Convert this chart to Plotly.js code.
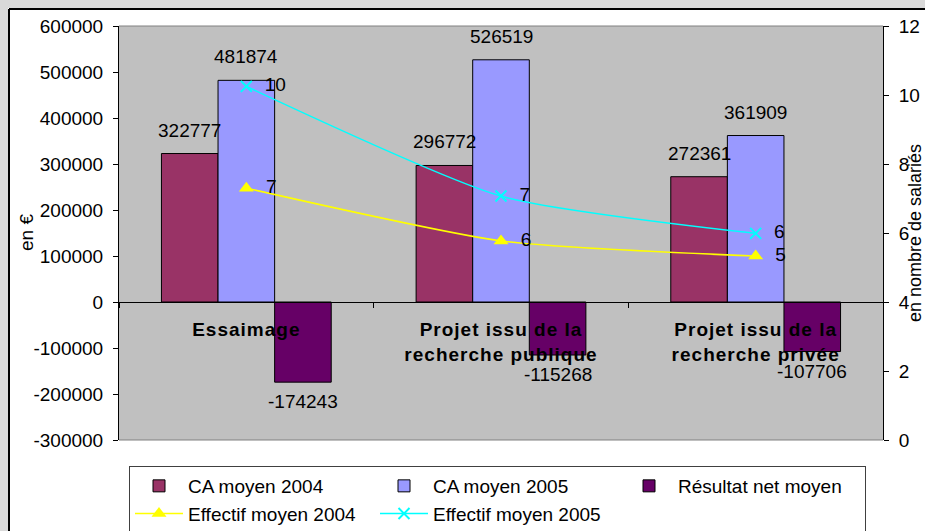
<!DOCTYPE html>
<html><head><meta charset="utf-8">
<script src="https://cdn.plot.ly/plotly-3.0.1.min.js"></script>
<style>
html,body{margin:0;padding:0;background:#fff;}
#chart{width:925px;height:531px;}
.xtick text{letter-spacing:1px;}
</style></head><body><div id="chart"></div>
<script>
// ---- data ----
const categories = ['Essaimage', 'Projet issu de la<br>recherche publique', 'Projet issu de la<br>recherche privée'];
const caMoyen2004 = [322777, 296772, 272361];
const caMoyen2005 = [481874, 526519, 361909];
const resultatNetMoyen = [-174243, -115268, -107706];
const effectifMoyen2004 = [7.3, 5.77, 5.33];
const effectifMoyen2005 = [10.25, 7.07, 5.99];
const leftTickVals = [600000, 500000, 400000, 300000, 200000, 100000, 0, -100000, -200000, -300000];
const leftTickText = ['600000', '500000', '400000', '300000', '200000', '100000', '0', '-100000', '-200000', '-300000'];
const rightTickVals = [0, 2, 4, 6, 8, 10, 12];
const rightTickText = ['0', '2', '4', '6', '8', '10', '12'];

// ---- layout geometry ----
const W = 925, H = 531;
const M = {l: 119, r: 42, t: 26, b: 91};
const plotW = W - M.l - M.r, plotH = H - M.t - M.b;
const px2x = px => (px - M.l) / plotW;
const px2y = py => (H - M.b - py) / plotH;
const bargap = 1 / 3;
const barW = plotW / categories.length * (1 - bargap) / 3;
const FONT = 'Liberation Sans, Arial, sans-serif';
const yMin = -300000, yMax = 600000;

const barTraces = [
  {name: 'CA moyen 2004', y: caMoyen2004, color: '#993366'},
  {name: 'CA moyen 2005', y: caMoyen2005, color: '#9999FF'},
  {name: 'Résultat net moyen', y: resultatNetMoyen, color: '#660066'}
].map(s => ({
  type: 'bar', name: s.name, x: categories, y: s.y,
  marker: {color: s.color, line: {color: '#000', width: 1}},
  hoverinfo: 'skip'
}));

const lineTraces = [
  {name: 'Effectif moyen 2004', y: effectifMoyen2004, color: '#FFFF00', symbol: 'triangle-up', size: 13, mline: 0},
  {name: 'Effectif moyen 2005', y: effectifMoyen2005, color: '#00FFFF', symbol: 'x-thin-open', size: 11, mline: 2}
].map(s => ({
  type: 'scatter', mode: 'lines+markers+text', name: s.name, x: categories, y: s.y, yaxis: 'y2',
  line: {color: s.color, width: 1.5, shape: 'spline', smoothing: 0.6},
  marker: {color: s.color, symbol: s.symbol, size: s.size, line: {color: s.color, width: s.mline}},
  texttemplate: '\u00a0\u00a0%{y:.0f}', textposition: 'middle right',
  textfont: {family: FONT, size: 19, color: '#000'}, cliponaxis: false, hoverinfo: 'skip'
}));

// value labels for bars
const annotations = [];
[caMoyen2004, caMoyen2005, resultatNetMoyen].forEach((arr, j) => {
  arr.forEach((v, i) => {
    annotations.push({
      x: categories[i], y: v, xref: 'x', yref: 'y', text: String(v), showarrow: false,
      xshift: (j - 1) * barW, yanchor: v >= 0 ? 'bottom' : 'top', yshift: v >= 0 ? 11 : -7,
      font: {family: FONT, size: 19, color: '#000'}
    });
  });
});
// axis titles
annotations.push({
  xref: 'paper', yref: 'paper', x: px2x(915), y: 0.5, text: 'en nombre de salariés', textangle: -90,
  showarrow: false, xanchor: 'center', yanchor: 'middle', font: {family: FONT, size: 18, color: '#000'}
});
annotations.push({
  xref: 'paper', yref: 'paper', x: px2x(26), y: 0.5, text: 'en €', textangle: -90,
  showarrow: false, xanchor: 'center', yanchor: 'middle', font: {family: FONT, size: 19, color: '#000'}
});

const shapes = [
  // outer grey frame strips
  {type: 'rect', xref: 'paper', yref: 'paper', x0: px2x(-5), x1: px2x(8), y0: px2y(H + 5), y1: px2y(-5), fillcolor: '#d9d9d9', line: {width: 0}, layer: 'below'},
  {type: 'rect', xref: 'paper', yref: 'paper', x0: px2x(-5), x1: px2x(W + 5), y0: px2y(8), y1: px2y(-5), fillcolor: '#d9d9d9', line: {width: 0}, layer: 'below'},
  {type: 'line', xref: 'paper', yref: 'paper', x0: px2x(9), x1: px2x(9), y0: px2y(9), y1: px2y(H + 5), line: {color: '#000', width: 2}, layer: 'below'},
  {type: 'line', xref: 'paper', yref: 'paper', x0: px2x(9), x1: px2x(W + 5), y0: px2y(9), y1: px2y(9), line: {color: '#000', width: 2}, layer: 'below'},
  // plot-area top and bottom border
  {type: 'line', xref: 'paper', yref: 'paper', x0: 0, x1: 1, y0: 1, y1: 1, line: {color: '#808080', width: 1}, layer: 'above'},
  {type: 'line', xref: 'paper', yref: 'paper', x0: 0, x1: 1, y0: 0, y1: 0, line: {color: '#808080', width: 1}, layer: 'above'}
];

const layout = {
  width: W, height: H,
  margin: {l: M.l, r: M.r, t: M.t, b: M.b, autoexpand: false},
  paper_bgcolor: '#ffffff', plot_bgcolor: '#c0c0c0',
  font: {family: FONT, size: 19, color: '#000'},
  barmode: 'group', bargap: bargap, bargroupgap: 0,
  showlegend: true,
  xaxis: {
    type: 'category', anchor: 'free', position: (0 - yMin) / (yMax - yMin),
    showline: true, linecolor: '#000', linewidth: 1,
    ticks: 'outside', tickson: 'boundaries', ticklen: 5, tickcolor: '#000',
    tickfont: {family: FONT, size: 19, weight: 'bold', color: '#000'},
    ticklabelstandoff: 10, showgrid: false, zeroline: false, fixedrange: true
  },
  yaxis: {
    range: [yMin, yMax], tickvals: leftTickVals, ticktext: leftTickText,
    showline: true, linecolor: '#000', linewidth: 1, ticks: 'outside', ticklen: 5, tickcolor: '#000',
    showgrid: false, zeroline: false, ticklabelstandoff: 6, automargin: false
  },
  yaxis2: {
    overlaying: 'y', side: 'right', range: [0, 12], tickvals: rightTickVals, ticktext: rightTickText,
    showline: true, linecolor: '#000', linewidth: 1, ticks: 'outside', ticklen: 5, tickcolor: '#000',
    showgrid: false, zeroline: false, ticklabelstandoff: 6, automargin: false
  },
  // inner halves of the crossing tick marks
  yaxis3: {
    overlaying: 'y', side: 'left', range: [yMin, yMax], tickvals: leftTickVals, showticklabels: false,
    ticks: 'inside', ticklen: 5, tickcolor: '#000', showline: false, showgrid: false, zeroline: false
  },
  yaxis4: {
    overlaying: 'y', side: 'right', range: [0, 12], tickvals: rightTickVals, showticklabels: false,
    ticks: 'inside', ticklen: 5, tickcolor: '#000', showline: false, showgrid: false, zeroline: false
  },
  legend: {
    orientation: 'h', x: px2x(129), y: px2y(466), xanchor: 'left', yanchor: 'top',
    bgcolor: '#ffffff', bordercolor: '#404040', borderwidth: 1,
    font: {family: FONT, size: 19, color: '#000'}, itemwidth: 48, entrywidth: 182, traceorder: 'normal'
  },
  annotations: annotations,
  shapes: shapes
};

Plotly.newPlot('chart', barTraces.concat(lineTraces), layout, {staticPlot: true, displayModeBar: false});
</script></body></html>
